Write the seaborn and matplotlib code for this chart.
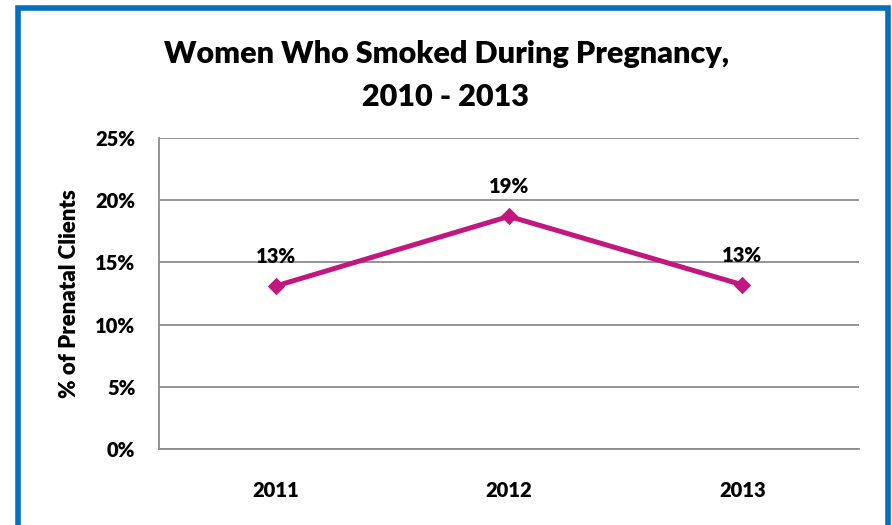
import matplotlib
matplotlib.use("Agg")
import matplotlib.pyplot as plt
import seaborn as sns
import pandas as pd
from matplotlib.patches import Rectangle

years = ["2011", "2012", "2013"]
values = [13.1, 18.7, 13.2]
labels = ["13%", "19%", "13%"]
y_ticks = [0, 5, 10, 15, 20, 25]
y_tick_labels = ["0%", "5%", "10%", "15%", "20%", "25%"]

sns.set_theme(style="white")
plt.rcParams['font.family'] = ['Lato', 'DejaVu Sans']
plt.rcParams['text.color'] = 'black'
plt.rcParams['axes.labelcolor'] = 'black'
plt.rcParams['xtick.color'] = 'black'
plt.rcParams['ytick.color'] = 'black'
WEIGHT = "heavy"

df = pd.DataFrame({"year": years, "value": values})

fig = plt.figure(figsize=(8.92, 5.25), dpi=100)
W, H = 892, 525
ax = fig.add_axes([159 / W, 1 - 449 / H, 700 / W, (449 - 138) / H])

line_color = "#C2177F"
sns.lineplot(data=df, x="year", y="value", ax=ax, color=line_color, linewidth=3.6,
             marker="D", markersize=8, markeredgecolor=line_color, sort=False)

ax.set_xlim(-0.5, 2.5)
ax.set_ylim(0, 25)
ax.set_yticks(y_ticks)
ax.set_yticklabels(y_tick_labels, fontsize=14.5, fontweight=WEIGHT)
ax.set_xticks(range(len(years)))
ax.set_xticklabels(years, fontsize=14.5, fontweight=WEIGHT)
ax.tick_params(axis="x", pad=23, length=0)
ax.tick_params(axis="y", pad=17, length=0)
ax.grid(axis="y", color="#8C8C8C", linewidth=1.3)
ax.set_axisbelow(True)
for s in ["top", "right"]:
    ax.spines[s].set_visible(False)
for s in ["left", "bottom"]:
    ax.spines[s].set_color("#8C8C8C")
    ax.spines[s].set_linewidth(1.3)
ax.set_xlabel("")
ax.set_ylabel("% of Prenatal Clients", fontsize=16, fontweight=WEIGHT, labelpad=11)

for i, (v, t) in enumerate(zip(values, labels)):
    ax.annotate(t, (i, v), xytext=(0, 16.5), textcoords="offset points",
                ha="center", va="baseline", fontsize=14.5, fontweight=WEIGHT)

fig.text(0.5, 1 - 54 / H, "Women Who Smoked During Pregnancy,",
         ha="center", va="center", fontsize=22, fontweight=WEIGHT)
fig.text(0.5, 1 - 97 / H, "2010 - 2013",
         ha="center", va="center", fontsize=22, fontweight=WEIGHT)

border = Rectangle((17.5 / W, -0.05), (887.5 - 17.5) / W, 1.05 - 7.5 / H,
                   transform=fig.transFigure, fill=False, edgecolor="#0070C0",
                   linewidth=4, clip_on=False)
fig.patches.append(border)

fig.savefig("out.png", dpi=100)
